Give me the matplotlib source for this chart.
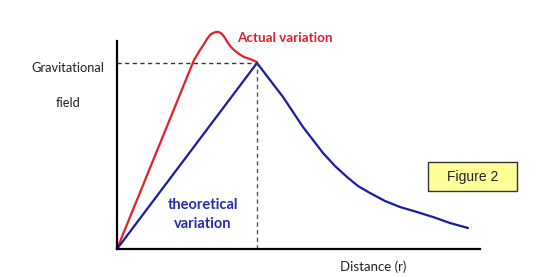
import matplotlib
matplotlib.use("Agg")
import matplotlib.pyplot as plt
from matplotlib.patches import Rectangle

# Data (distance, field) in arbitrary units
theory_r = [0, 140, 153, 166, 176, 186, 196, 206, 218, 230, 241, 253, 268, 283, 300, 316, 333, 351]
theory_g = [0, 186, 169, 152, 137, 122, 109, 96, 83, 72, 63, 56, 48, 42, 37, 32, 26, 21]

actual_r = [0, 77, 83, 87, 90, 93, 96, 99, 102, 105, 108, 111, 114, 117, 122, 127, 133, 140]
actual_g = [0, 189, 199, 205, 210, 214, 216, 217, 217, 215, 211, 206, 202, 199, 195, 192, 190, 187]

peak_r, peak_g = 140, 186

x_label = "Distance (r)"

W, H = 540, 277
fig = plt.figure(figsize=(W / 100, H / 100), dpi=100)
fig.patch.set_facecolor("white")
# axes spanning pixel box: x 117..480, y 41..249
x0, x1, y0, y1 = 117, 480, 41, 249
ax = fig.add_axes([x0 / W, 1 - y1 / H, (x1 - x0) / W, (y1 - y0) / H])
ax.set_xlim(0, x1 - x0)
ax.set_ylim(0, y1 - y0)
for s in ["top", "right"]:
    ax.spines[s].set_visible(False)
for s in ["left", "bottom"]:
    ax.spines[s].set_linewidth(1.6)
    ax.spines[s].set_color("black")
ax.set_xticks([])
ax.set_yticks([])
ax.patch.set_alpha(0)

ax.plot(actual_r, actual_g, color="#e0202a", lw=1.6, clip_on=False, solid_capstyle="round", solid_joinstyle="round")
ax.plot(theory_r, theory_g, color="#1a1aa8", lw=1.6, clip_on=False, solid_capstyle="round", solid_joinstyle="round")

ax.plot([0, peak_r], [peak_g, peak_g], color="#333333", lw=1.0, ls=(0, (3, 2.5)))
ax.plot([peak_r, peak_r], [0, peak_g], color="#555555", lw=1.0, ls=(0, (3, 2.5)))

lab = dict(family="Lato", color="#222222")
fig.text(68 / W, 1 - 68 / H, "Gravitational", ha="center", va="center", fontsize=9.3, **lab)
fig.text(68 / W, 1 - 103 / H, "field", ha="center", va="center", fontsize=9.3, **lab)
fig.text(373 / W, 1 - 267 / H, x_label, ha="center", va="center", fontsize=9.5, **lab)

fig.text(285 / W, 1 - 38 / H, "Actual variation", ha="center", va="center", fontsize=9.7,
         color="#d8202a", fontweight="bold", family="Lato")
fig.text(203 / W, 1 - 205 / H, "theoretical", ha="center", va="center", fontsize=10.5,
         color="#2a2ab0", fontweight="bold", family="Lato")
fig.text(203 / W, 1 - 224 / H, "variation", ha="center", va="center", fontsize=10.5,
         color="#2a2ab0", fontweight="bold", family="Lato")

fig.patches.append(Rectangle((428 / W, 1 - 191 / H), 89 / W, 29 / H, transform=fig.transFigure,
                             facecolor="#ffff99", edgecolor="#333333", lw=1.0))
fig.text(473 / W, 1 - 177 / H, "Figure 2", ha="center", va="center", fontsize=10,
         color="#222222", family="Liberation Sans")

fig.savefig("out.png", dpi=100)
